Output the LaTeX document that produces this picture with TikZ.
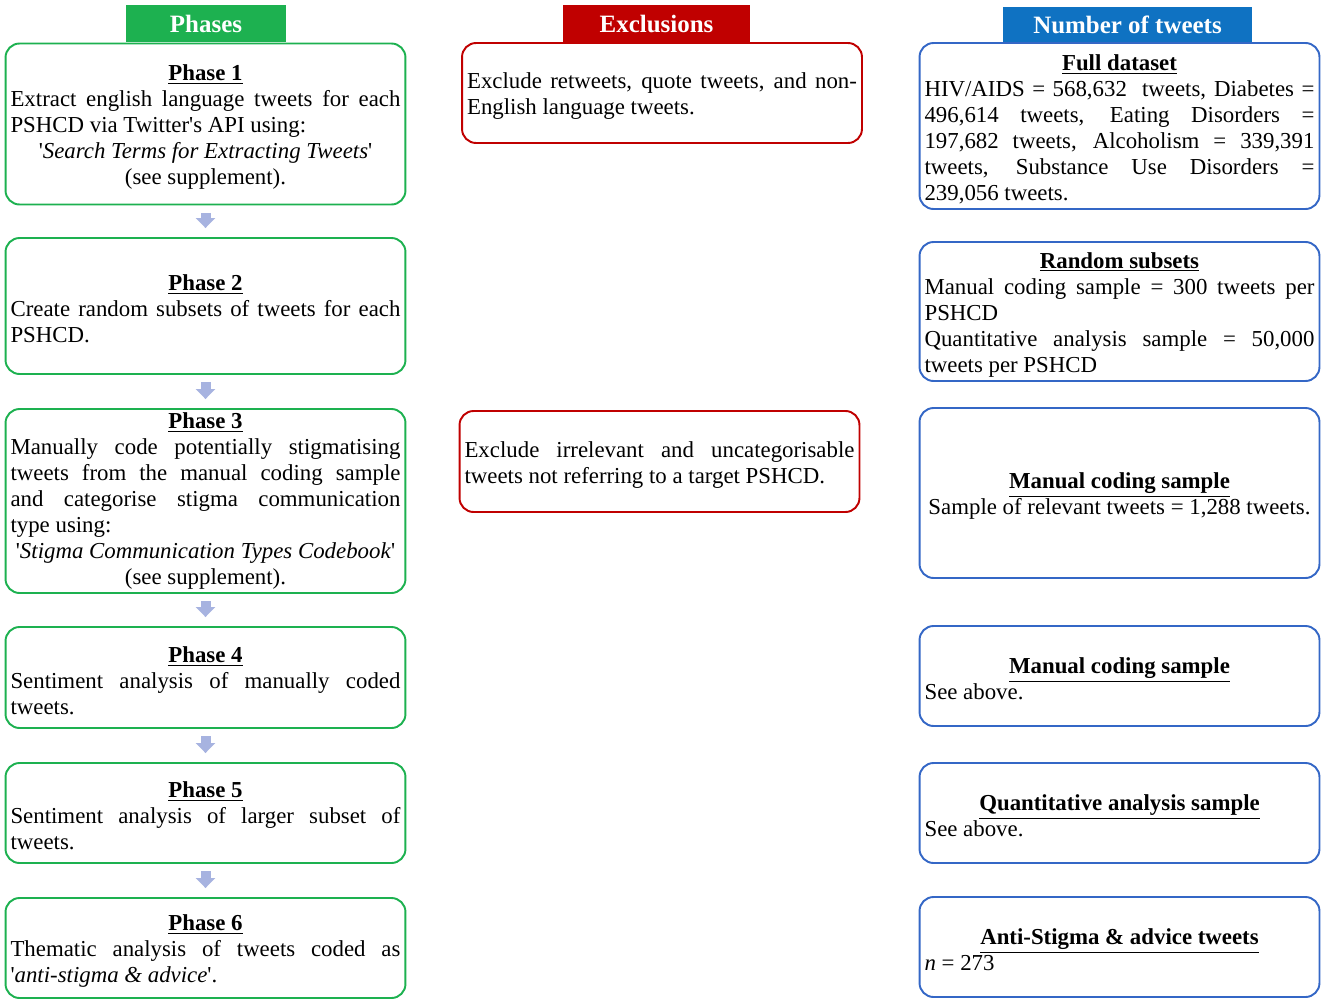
\documentclass[tikz,border=0pt]{standalone}
\usepackage{fontspec}
\setmainfont{Liberation Serif}[Ligatures=TeXOff]
\usetikzlibrary{arrows.meta}
\definecolor{phasegreen}{HTML}{1DB150}
\definecolor{exclred}{HTML}{C00000}
\definecolor{tweetblue}{HTML}{0F72C2}
\definecolor{tweetline}{HTML}{3467C6}
\definecolor{flowblue}{HTML}{A7B3E0}
\setlength{\parindent}{0pt}
\newcommand{\topstrut}{\rule{0pt}{0.44cm}}
\newcommand{\boxhead}[1]{\centerline{\topstrut\textbf{\underline{#1}}}}
\begin{document}
\begin{tikzpicture}[x=0.02cm,y=-0.02cm,
    every node/.style={font=\fontsize{13}{14.8}\selectfont},
    box/.style={draw,rounded corners=0.28cm,line width=1.1pt,text width=7.8cm,
      inner xsep=0.1cm,inner ysep=0pt,align=justify},
    phasebox/.style={box,draw=phasegreen},
    exclbox/.style={box,draw=exclred},
    tweetbox/.style={box,draw=tweetline},
    head/.style={text=white,font=\fontsize{14.2}{17}\selectfont\bfseries,minimum height=0.74cm,inner sep=0pt},
    flow/.style={draw=flowblue,line width=0.2cm,-{Triangle[width=0.38cm,length=0.2cm]},
      shorten <=0.15cm,shorten >=0.18cm}]
  \useasboundingbox (0,0) rectangle (1325,1004);
  % column headers
  \node[head,fill=phasegreen,minimum width=3.2cm] (hphase) at (206,23.5) {Phases};
  \node[head,fill=exclred,minimum width=3.74cm] (hexcl) at (656.5,23.5) {Exclusions};
  \node[head,fill=tweetblue,minimum width=4.98cm,minimum height=0.7cm] (htweet) at (1127.5,24.5) {Number of tweets};
  % phases
  \node[phasebox,minimum height=3.22cm] (p1) at (205.5,124) {\boxhead{Phase 1}
    Extract english language tweets for each\linebreak PSHCD via Twitter's API using:\par
    \centerline{'\textit{Search Terms for Extracting Tweets}'}
    \centerline{(see supplement).}};
  \node[phasebox,minimum height=2.72cm] (p2) at (205.5,306) {\boxhead{Phase 2}
    Create random subsets of tweets for each\linebreak PSHCD.};
  \node[phasebox,minimum height=3.68cm] (p3) at (205.5,501) {\centerline{\textbf{\underline{Phase 3}}}
    Manually code potentially stigmatising\linebreak tweets from the manual coding sample\linebreak
    and categorise stigma communication\linebreak type using:\par
    \centerline{'\textit{Stigma Communication Types Codebook}'}
    \centerline{(see supplement).}};
  \node[phasebox,minimum height=2.02cm] (p4) at (205.5,677.5) {\boxhead{Phase 4}
    Sentiment analysis of manually coded\linebreak tweets.};
  \node[phasebox,minimum height=2cm] (p5) at (205.5,813) {\boxhead{Phase 5}
    Sentiment analysis of larger subset of\linebreak tweets.};
  \node[phasebox,minimum height=2cm] (p6) at (205.5,948) {\boxhead{Phase 6}
    Thematic analysis of tweets coded as\linebreak '\textit{anti-stigma \& advice}'.};
  % exclusions
  \node[exclbox,minimum height=2cm] (e1) at (662,93) {\topstrut Exclude retweets, quote tweets, and non-\linebreak English language tweets.};
  \node[exclbox,minimum height=2.02cm] (e2) at (659.5,461.5) {\topstrut Exclude irrelevant and uncategorisable\linebreak tweets not referring to a target PSHCD.};
  % number of tweets
  \node[tweetbox,minimum height=3.32cm] (n1) at (1119.5,126) {\boxhead{Full dataset}
    HIV/AIDS = 568,632 \ tweets, Diabetes =\linebreak 496,614 tweets, Eating Disorders =\linebreak
    197,682 tweets, Alcoholism = 339,391\linebreak tweets, Substance Use Disorders =\linebreak 239,056 tweets.};
  \node[tweetbox,minimum height=2.78cm] (n2) at (1119.5,311.5) {\boxhead{Random subsets}
    Manual coding sample = 300 tweets per\linebreak PSHCD\par
    Quantitative analysis sample = 50,000\linebreak tweets per PSHCD};
  \node[tweetbox,minimum height=3.4cm] (n3) at (1119.5,493) {\boxhead{Manual coding sample}
    \centerline{Sample of relevant tweets = 1,288 tweets.}};
  \node[tweetbox,minimum height=2cm] (n4) at (1119.5,676) {\boxhead{Manual coding sample}
    See above.};
  \node[tweetbox,minimum height=2cm] (n5) at (1119.5,813) {\boxhead{Quantitative analysis sample}
    See above.};
  \node[tweetbox,minimum height=2cm] (n6) at (1119.5,947) {\boxhead{Anti-Stigma \& advice tweets}
    \textit{n} = 273};
  % flow between phases
  \draw[flow] (p1) -- (p2);
  \draw[flow] (p2) -- (p3);
  \draw[flow] (p3) -- (p4);
  \draw[flow] (p4) -- (p5);
  \draw[flow] (p5) -- (p6);
\end{tikzpicture}
\end{document}
